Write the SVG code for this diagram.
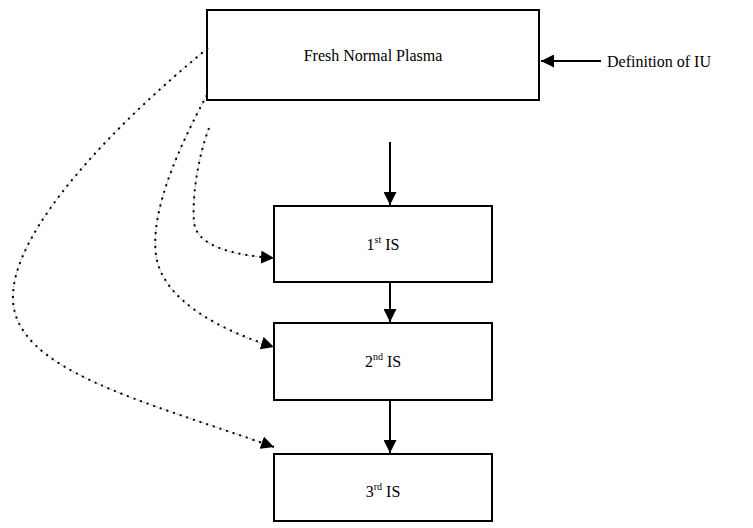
<svg xmlns="http://www.w3.org/2000/svg" width="753" height="528" viewBox="0 0 753 528">
<style>
.box{fill:#fff;stroke:#000;stroke-width:2}
.t{font-family:"Liberation Serif","Times New Roman",serif;font-size:16px;fill:#000}
.sup{font-size:10px}
.solid{fill:none;stroke:#000;stroke-width:2}
.under{fill:none;stroke:#b0b0b0;stroke-width:0.8;stroke-dasharray:3,1.5}
.dots{fill:none;stroke:#000;stroke-width:2;stroke-dasharray:2,5}
</style>
<defs>
<marker id="ah" viewBox="0 0 10 10" refX="10" refY="5" markerWidth="13" markerHeight="13" markerUnits="userSpaceOnUse" orient="auto">
<path d="M0,0 L10,5 L0,10 z" fill="#000"/>
</marker>
</defs>
<g id="fresh-normal-plasma">
<rect class="box" x="207" y="10" width="332" height="90"/>
<text class="t" x="373" y="61" text-anchor="middle">Fresh Normal Plasma</text>
</g>
<g id="definition-of-iu">
<text class="t" x="607" y="67">Definition of IU</text>
</g>
<g id="is1">
<rect class="box" x="274" y="206" width="218" height="76"/>
<text class="t" x="383" y="250" text-anchor="middle">1<tspan class="sup" dy="-7">st</tspan><tspan dy="7"> IS</tspan></text>
</g>
<g id="is2">
<rect class="box" x="274" y="323" width="218" height="77"/>
<text class="t" x="383" y="367" text-anchor="middle">2<tspan class="sup" dy="-7">nd</tspan><tspan dy="7"> IS</tspan></text>
</g>
<g id="is3">
<rect class="box" x="274" y="454" width="218" height="67"/>
<text class="t" x="383" y="497" text-anchor="middle">3<tspan class="sup" dy="-7">rd</tspan><tspan dy="7"> IS</tspan></text>
</g>
<g id="connectors">
<line class="solid" x1="601" y1="61" x2="541" y2="61" marker-end="url(#ah)"/>
<line class="solid" x1="390" y1="142" x2="390" y2="205" marker-end="url(#ah)"/>
<line class="solid" x1="390" y1="282" x2="390" y2="322" marker-end="url(#ah)"/>
<line class="solid" x1="390" y1="400" x2="390" y2="453" marker-end="url(#ah)"/>
<path class="under" d="M209,128 C197,160 192,200 194,222 C196,245 230,255 266,257.5"/>
<path class="dots" d="M209,128 C197,160 192,200 194,222 C196,245 230,255 274,258" marker-end="url(#ah)"/>
<path class="under" d="M207,95 C180,145 150,210 156,255 C162,300 220,330 266,345"/>
<path class="dots" d="M207,95 C180,145 150,210 156,255 C162,300 220,330 274,347" marker-end="url(#ah)"/>
<path class="under" d="M208,48 C120,120 10,230 13,300 C16,370 140,400 266,444"/>
<path class="dots" d="M208,48 C120,120 10,230 13,300 C16,370 140,400 274,447" marker-end="url(#ah)"/>
</g>
</svg>
